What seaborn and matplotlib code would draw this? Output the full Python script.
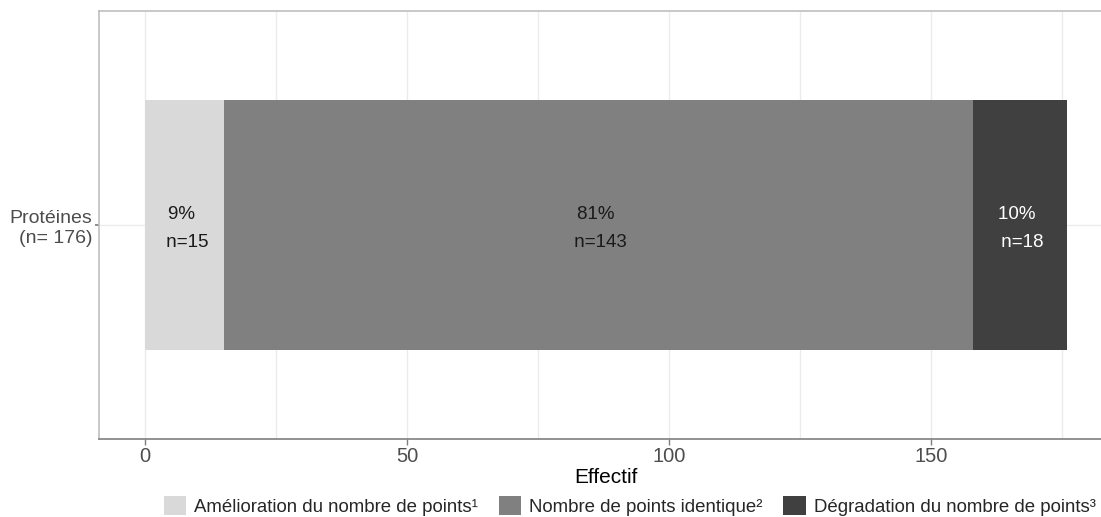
import matplotlib
matplotlib.use("Agg")
import matplotlib.pyplot as plt
from matplotlib.patches import Patch
import seaborn as sns
import pandas as pd
import numpy as np

categories = ["Amélioration du nombre de points¹", "Nombre de points identique²", "Dégradation du nombre de points³"]
counts = [15, 143, 18]
percents = [9, 81, 10]
row_label = "Protéines\n(n= 176)"
colors = ["#D9D9D9", "#808080", "#404040"]
text_colors = ["#1a1a1a", "#1a1a1a", "#ffffff"]

sns.set_theme(style="white")
plt.rcParams["font.family"] = ["Liberation Sans", "DejaVu Sans"]

fig = plt.figure(figsize=(11.01, 5.17), dpi=100)
# axes extends past right edge as in the (cropped) reference
ax = fig.add_axes([99 / 1101, 1 - 439 / 517, (1113 - 99) / 1101, (439 - 11) / 517])

cum = np.cumsum(counts)
total = cum[-1]
# draw stacked bars from the longest cumulative to shortest
for i in reversed(range(len(counts))):
    df = pd.DataFrame({"row": [row_label], "value": [cum[i]]})
    sns.barplot(data=df, x="value", y="row", orient="h", color=colors[i],
                saturation=1, width=0.7, ax=ax, zorder=2, linewidth=0)

starts = np.concatenate([[0], cum[:-1]])
for i in range(len(counts)):
    mid = starts[i] + counts[i] / 2
    ax.text(mid, 0.01, f"{percents[i]}% \n n={counts[i]}", ha="center", va="center",
            fontsize=13.5, color=text_colors[i], linespacing=1.85, zorder=3)

ax.set_xlim(-0.05 * total, total * 1.05)
ax.set_ylim(0.6, -0.6)
ax.set_xticks([0, 50, 100, 150])
ax.set_xticks([25, 75, 125, 175], minor=True)
ax.grid(True, which="both", axis="x", color="#EBEBEB", linewidth=1, zorder=0)
ax.grid(True, which="major", axis="y", color="#EBEBEB", linewidth=1, zorder=0)
ax.set_axisbelow(True)
ax.set_xlabel("Effectif", fontsize=15, color="#000000", labelpad=1)
ax.set_ylabel("")
ax.tick_params(axis="x", which="major", labelsize=14.5, labelcolor="#4D4D4D", length=4,
               color="#7F7F7F", width=1, pad=2, bottom=True)
ax.tick_params(axis="x", which="minor", length=0)
ax.tick_params(axis="y", labelsize=14, labelcolor="#4D4D4D", length=3, color="#7F7F7F",
               left=True, pad=2)
for lbl in ax.get_yticklabels():
    lbl.set_horizontalalignment("right")
    lbl.set_multialignment("right")

for side in ["left", "top", "right"]:
    ax.spines[side].set_color("#BFBFBF")
    ax.spines[side].set_linewidth(1.2)
ax.spines["bottom"].set_color("#7F7F7F")
ax.spines["bottom"].set_linewidth(1.2)

handles = [Patch(facecolor=c, edgecolor="none", label=l) for c, l in zip(colors, categories)]
fig.legend(handles=handles, loc="center", bbox_to_anchor=(0.572, 0.022), ncol=3,
           frameon=False, fontsize=13.4, handlelength=1.2, handleheight=1.2,
           handletextpad=0.45, columnspacing=1.1, borderpad=0)

fig.savefig("out.png", dpi=100)
